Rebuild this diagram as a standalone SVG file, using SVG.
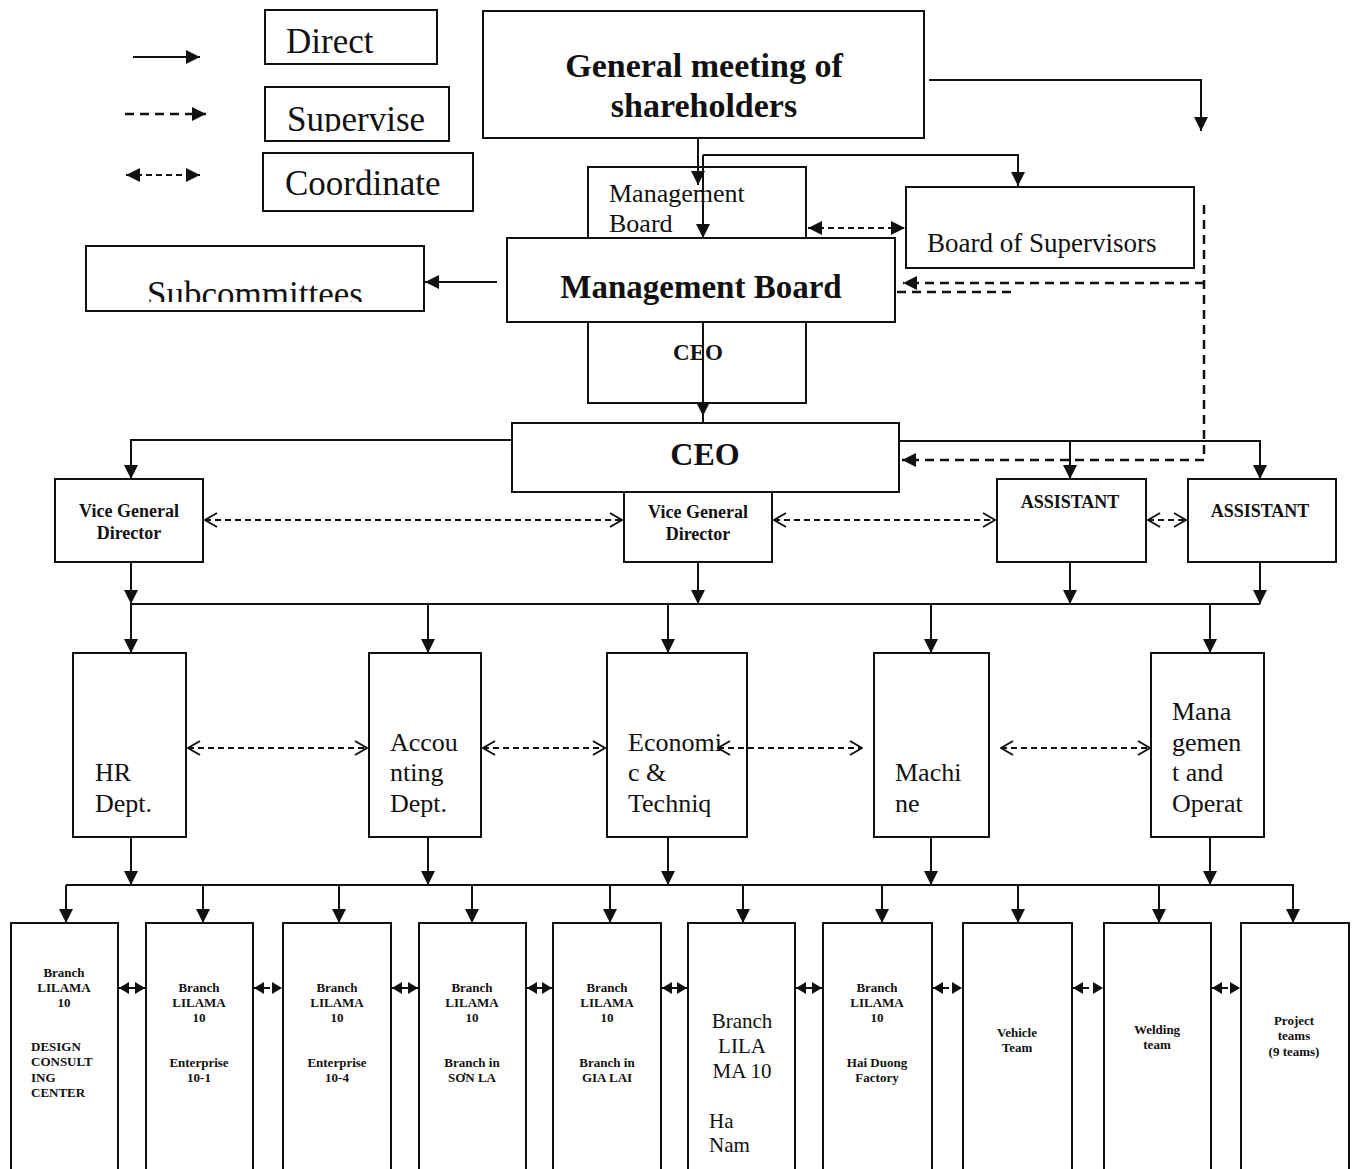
<svg xmlns="http://www.w3.org/2000/svg" width="1358" height="1169" viewBox="0 0 1358 1169">
<style>
.box{fill:#fff;stroke:#111;stroke-width:2}
.ln{fill:none;stroke:#111;stroke-width:2}
.sup{fill:none;stroke:#111;stroke-width:2.5;stroke-dasharray:9 6}
.crd{fill:none;stroke:#111;stroke-width:2;stroke-dasharray:6 4}
text{font-family:"Liberation Serif","Times New Roman",serif;fill:#111}
.leg{font-size:35px}
.gm{font-size:34px;font-weight:bold;text-anchor:middle}
.mb{font-size:33px;font-weight:bold;text-anchor:middle}
.sm{font-size:26px}
.vg{font-size:18px;font-weight:bold;text-anchor:middle}
.dp{font-size:26px}
.br{font-size:13px;font-weight:bold;text-anchor:middle}
.brl{font-size:13px;font-weight:bold}
.hn{font-size:21px}
</style>
<defs>
<marker id="ah" viewBox="0 0 14 14" refX="14" refY="7" markerWidth="14" markerHeight="14" markerUnits="userSpaceOnUse" orient="auto-start-reverse"><path d="M0,0 L14,7 L0,14 z" fill="#111"/></marker>
<marker id="sh" viewBox="0 0 10 12" refX="10" refY="6" markerWidth="10" markerHeight="12" markerUnits="userSpaceOnUse" orient="auto-start-reverse"><path d="M0,0 L10,6 L0,12 z" fill="#111"/></marker>
<marker id="op" viewBox="0 0 14 16" refX="13" refY="8" markerWidth="14" markerHeight="16" markerUnits="userSpaceOnUse" orient="auto-start-reverse"><path d="M1,1 L13,8 L1,15" fill="none" stroke="#111" stroke-width="2"/></marker>
<clipPath id="cSup"><rect x="265" y="87" width="184" height="45"/></clipPath>
<clipPath id="cSub"><rect x="86" y="246" width="338" height="56"/></clipPath>
</defs>

<g id="legend">
<line class="ln" x1="133" y1="57" x2="200" y2="57" marker-end="url(#ah)"/>
<line class="sup" x1="125" y1="114" x2="206" y2="114" marker-end="url(#ah)" stroke-dasharray="8 6"/>
<line class="crd" x1="126" y1="175" x2="200" y2="175" marker-start="url(#ah)" marker-end="url(#ah)" stroke-dasharray="7 5"/>
<g id="leg-direct"><rect class="box" x="265" y="10" width="172" height="54"/><text class="leg" x="286" y="53">Direct</text></g>
<g id="leg-supervise"><rect class="box" x="265" y="87" width="184" height="54"/><text class="leg" x="287" y="131" clip-path="url(#cSup)">Supervise</text></g>
<g id="leg-coordinate"><rect class="box" x="263" y="153" width="210" height="58"/><text class="leg" x="285" y="195">Coordinate</text></g>
</g>

<g id="gm"><rect class="box" x="483" y="11" width="441" height="127"/><text class="gm" x="704" y="77">General meeting of</text><text class="gm" x="704" y="117">shareholders</text></g>

<g id="mb-small"><rect class="box" x="588" y="167" width="218" height="100"/><text class="sm" x="609" y="202">Management</text><text class="sm" x="609" y="232">Board</text></g>
<g id="ceo-small"><rect class="box" x="588" y="300" width="218" height="103"/><text x="698" y="360" style="font-size:23px;font-weight:bold;text-anchor:middle">CEO</text></g>
<g id="mb"><rect class="box" x="507" y="238" width="388" height="84"/><text class="mb" x="701" y="298">Management Board</text></g>
<g id="bos"><rect class="box" x="906" y="187" width="288" height="81"/><text x="927" y="252" style="font-size:27px">Board of Supervisors</text></g>
<g id="subc"><rect class="box" x="86" y="246" width="338" height="65"/><text class="leg" x="255" y="306" text-anchor="middle" clip-path="url(#cSub)">Subcommittees</text></g>

<g id="ceo"><rect class="box" x="512" y="423" width="387" height="69"/><text x="705" y="465" style="font-size:32px;font-weight:bold;text-anchor:middle">CEO</text></g>
<g id="vgd1"><rect class="box" x="55" y="479" width="148" height="83"/><text class="vg" x="129" y="517">Vice General</text><text class="vg" x="129" y="539">Director</text></g>
<g id="vgd2"><rect class="box" x="624" y="492" width="148" height="70"/><text class="vg" x="698" y="518">Vice General</text><text class="vg" x="698" y="540">Director</text></g>
<g id="asst1"><rect class="box" x="997" y="479" width="149" height="83"/><text class="vg" x="1070" y="508">ASSISTANT</text></g>
<g id="asst2"><rect class="box" x="1188" y="479" width="148" height="83"/><text class="vg" x="1260" y="517">ASSISTANT</text></g>

<g id="hr"><rect class="box" x="73" y="653" width="113" height="184"/><text class="dp" x="95" y="781">HR</text><text class="dp" x="95" y="812">Dept.</text></g>
<g id="acc"><rect class="box" x="369" y="653" width="112" height="184"/><text class="dp" x="390" y="751">Accou</text><text class="dp" x="390" y="781">nting</text><text class="dp" x="390" y="812">Dept.</text></g>
<g id="eco"><rect class="box" x="607" y="653" width="140" height="184"/><text class="dp" x="628" y="751">Economi</text><text class="dp" x="628" y="781">c &amp;</text><text class="dp" x="628" y="812">Techniq</text></g>
<g id="mach"><rect class="box" x="874" y="653" width="115" height="184"/><text class="dp" x="895" y="781">Machi</text><text class="dp" x="895" y="812">ne</text></g>
<g id="mgo"><rect class="box" x="1151" y="653" width="113" height="184"/><text class="dp" x="1172" y="720">Mana</text><text class="dp" x="1172" y="751">gemen</text><text class="dp" x="1172" y="781">t and</text><text class="dp" x="1172" y="812">Operat</text></g>

<g id="b1"><rect class="box" x="11" y="923" width="107" height="250"/><text class="br" x="64" y="977">Branch</text><text class="br" x="64" y="992">LILAMA</text><text class="br" x="64" y="1007">10</text><text class="brl" x="31" y="1051">DESIGN</text><text class="brl" x="31" y="1066">CONSULT</text><text class="brl" x="31" y="1082">ING</text><text class="brl" x="31" y="1097">CENTER</text></g>
<g id="b2"><rect class="box" x="146" y="923" width="107" height="250"/><text class="br" x="199" y="992">Branch</text><text class="br" x="199" y="1007">LILAMA</text><text class="br" x="199" y="1022">10</text><text class="br" x="199" y="1067">Enterprise</text><text class="br" x="199" y="1082">10-1</text></g>
<g id="b3"><rect class="box" x="283" y="923" width="108" height="250"/><text class="br" x="337" y="992">Branch</text><text class="br" x="337" y="1007">LILAMA</text><text class="br" x="337" y="1022">10</text><text class="br" x="337" y="1067">Enterprise</text><text class="br" x="337" y="1082">10-4</text></g>
<g id="b4"><rect class="box" x="419" y="923" width="107" height="250"/><text class="br" x="472" y="992">Branch</text><text class="br" x="472" y="1007">LILAMA</text><text class="br" x="472" y="1022">10</text><text class="br" x="472" y="1067">Branch in</text><text class="br" x="472" y="1082">SƠN LA</text></g>
<g id="b5"><rect class="box" x="553" y="923" width="108" height="250"/><text class="br" x="607" y="992">Branch</text><text class="br" x="607" y="1007">LILAMA</text><text class="br" x="607" y="1022">10</text><text class="br" x="607" y="1067">Branch in</text><text class="br" x="607" y="1082">GIA LAI</text></g>
<g id="b6"><rect class="box" x="688" y="923" width="107" height="250"/><text class="hn" x="742" y="1028" text-anchor="middle">Branch</text><text class="hn" x="742" y="1053" text-anchor="middle">LILA</text><text class="hn" x="742" y="1078" text-anchor="middle">MA 10</text><text class="hn" x="709" y="1128">Ha</text><text class="hn" x="709" y="1152">Nam</text></g>
<g id="b7"><rect class="box" x="823" y="923" width="109" height="250"/><text class="br" x="877" y="992">Branch</text><text class="br" x="877" y="1007">LILAMA</text><text class="br" x="877" y="1022">10</text><text class="br" x="877" y="1067">Hai Duong</text><text class="br" x="877" y="1082">Factory</text></g>
<g id="b8"><rect class="box" x="963" y="923" width="109" height="250"/><text class="br" x="1017" y="1037">Vehicle</text><text class="br" x="1017" y="1052">Team</text></g>
<g id="b9"><rect class="box" x="1104" y="923" width="107" height="250"/><text class="br" x="1157" y="1034">Welding</text><text class="br" x="1157" y="1049">team</text></g>
<g id="b10"><rect class="box" x="1241" y="923" width="108" height="250"/><text class="br" x="1294" y="1025">Project</text><text class="br" x="1294" y="1040">teams</text><text class="br" x="1294" y="1056">(9 teams)</text></g>

<g id="connectors">
<line class="ln" x1="698" y1="138" x2="698" y2="185" marker-end="url(#ah)"/>
<line class="ln" x1="703" y1="155" x2="703" y2="238" marker-end="url(#ah)"/>
<polyline class="ln" points="703,155 1018,155 1018,186" marker-end="url(#ah)"/>
<polyline class="ln" points="929,80 1201,80 1201,131" marker-end="url(#ah)"/>
<line class="crd" x1="808" y1="228" x2="905" y2="228" marker-start="url(#ah)" marker-end="url(#ah)" stroke-dasharray="8 5"/>
<line class="ln" x1="497" y1="282" x2="425" y2="282" marker-end="url(#ah)"/>
<line class="ln" x1="703" y1="322" x2="703" y2="416" marker-end="url(#ah)"/>
<line class="ln" x1="703" y1="414" x2="703" y2="423"/>
<line class="sup" x1="1204" y1="205" x2="1204" y2="460"/>
<line class="sup" x1="1204" y1="283" x2="903" y2="283" marker-end="url(#ah)"/>
<line class="sup" x1="897" y1="292" x2="1013" y2="292"/>
<line class="sup" x1="1204" y1="460" x2="902" y2="460" marker-end="url(#ah)"/>
<polyline class="ln" points="512,440 131,440 131,479" marker-end="url(#ah)"/>
<polyline class="ln" points="899,441 1260,441 1260,479" marker-end="url(#ah)"/>
<line class="ln" x1="1070" y1="441" x2="1070" y2="479" marker-end="url(#ah)"/>
<line class="crd" x1="205" y1="520" x2="622" y2="520" marker-start="url(#op)" marker-end="url(#op)"/>
<line class="crd" x1="774" y1="520" x2="995" y2="520" marker-start="url(#op)" marker-end="url(#op)"/>
<line class="crd" x1="1148" y1="520" x2="1186" y2="520" marker-start="url(#op)" marker-end="url(#op)"/>
<line class="ln" x1="131" y1="562" x2="131" y2="604" marker-end="url(#ah)"/>
<line class="ln" x1="698" y1="562" x2="698" y2="604" marker-end="url(#ah)"/>
<line class="ln" x1="1070" y1="562" x2="1070" y2="604" marker-end="url(#ah)"/>
<line class="ln" x1="1260" y1="562" x2="1260" y2="604" marker-end="url(#ah)"/>
<line class="ln" x1="131" y1="604" x2="1260" y2="604"/>
<line class="ln" x1="131" y1="604" x2="131" y2="653" marker-end="url(#ah)"/>
<line class="ln" x1="428" y1="604" x2="428" y2="653" marker-end="url(#ah)"/>
<line class="ln" x1="668" y1="604" x2="668" y2="653" marker-end="url(#ah)"/>
<line class="ln" x1="931" y1="604" x2="931" y2="653" marker-end="url(#ah)"/>
<line class="ln" x1="1210" y1="604" x2="1210" y2="653" marker-end="url(#ah)"/>
<line class="crd" x1="188" y1="748" x2="367" y2="748" marker-start="url(#op)" marker-end="url(#op)"/>
<line class="crd" x1="483" y1="748" x2="605" y2="748" marker-start="url(#op)" marker-end="url(#op)"/>
<line class="crd" x1="718" y1="748" x2="862" y2="748" marker-start="url(#op)" marker-end="url(#op)"/>
<line class="crd" x1="1001" y1="748" x2="1150" y2="748" marker-start="url(#op)" marker-end="url(#op)"/>
<line class="ln" x1="131" y1="837" x2="131" y2="885" marker-end="url(#ah)"/>
<line class="ln" x1="428" y1="837" x2="428" y2="885" marker-end="url(#ah)"/>
<line class="ln" x1="668" y1="837" x2="668" y2="885" marker-end="url(#ah)"/>
<line class="ln" x1="931" y1="837" x2="931" y2="885" marker-end="url(#ah)"/>
<line class="ln" x1="1210" y1="837" x2="1210" y2="885" marker-end="url(#ah)"/>
<line class="ln" x1="66" y1="885" x2="1294" y2="885"/>
<line class="ln" x1="66" y1="885" x2="66" y2="923" marker-end="url(#ah)"/>
<line class="ln" x1="203" y1="885" x2="203" y2="923" marker-end="url(#ah)"/>
<line class="ln" x1="339" y1="885" x2="339" y2="923" marker-end="url(#ah)"/>
<line class="ln" x1="472" y1="885" x2="472" y2="923" marker-end="url(#ah)"/>
<line class="ln" x1="610" y1="885" x2="610" y2="923" marker-end="url(#ah)"/>
<line class="ln" x1="743" y1="885" x2="743" y2="923" marker-end="url(#ah)"/>
<line class="ln" x1="882" y1="885" x2="882" y2="923" marker-end="url(#ah)"/>
<line class="ln" x1="1018" y1="885" x2="1018" y2="923" marker-end="url(#ah)"/>
<line class="ln" x1="1159" y1="885" x2="1159" y2="923" marker-end="url(#ah)"/>
<line class="ln" x1="1293" y1="885" x2="1293" y2="923" marker-end="url(#ah)"/>
<line class="crd" x1="119" y1="988" x2="145" y2="988" marker-start="url(#sh)" marker-end="url(#sh)" stroke-dasharray="3 3"/>
<line class="crd" x1="254" y1="988" x2="282" y2="988" marker-start="url(#sh)" marker-end="url(#sh)" stroke-dasharray="3 3"/>
<line class="crd" x1="392" y1="988" x2="418" y2="988" marker-start="url(#sh)" marker-end="url(#sh)" stroke-dasharray="3 3"/>
<line class="crd" x1="527" y1="988" x2="552" y2="988" marker-start="url(#sh)" marker-end="url(#sh)" stroke-dasharray="3 3"/>
<line class="crd" x1="662" y1="988" x2="687" y2="988" marker-start="url(#sh)" marker-end="url(#sh)" stroke-dasharray="3 3"/>
<line class="crd" x1="796" y1="988" x2="822" y2="988" marker-start="url(#sh)" marker-end="url(#sh)" stroke-dasharray="3 3"/>
<line class="crd" x1="933" y1="988" x2="962" y2="988" marker-start="url(#sh)" marker-end="url(#sh)" stroke-dasharray="3 3"/>
<line class="crd" x1="1073" y1="988" x2="1103" y2="988" marker-start="url(#sh)" marker-end="url(#sh)" stroke-dasharray="3 3"/>
<line class="crd" x1="1212" y1="988" x2="1240" y2="988" marker-start="url(#sh)" marker-end="url(#sh)" stroke-dasharray="3 3"/>
</g>
</svg>
